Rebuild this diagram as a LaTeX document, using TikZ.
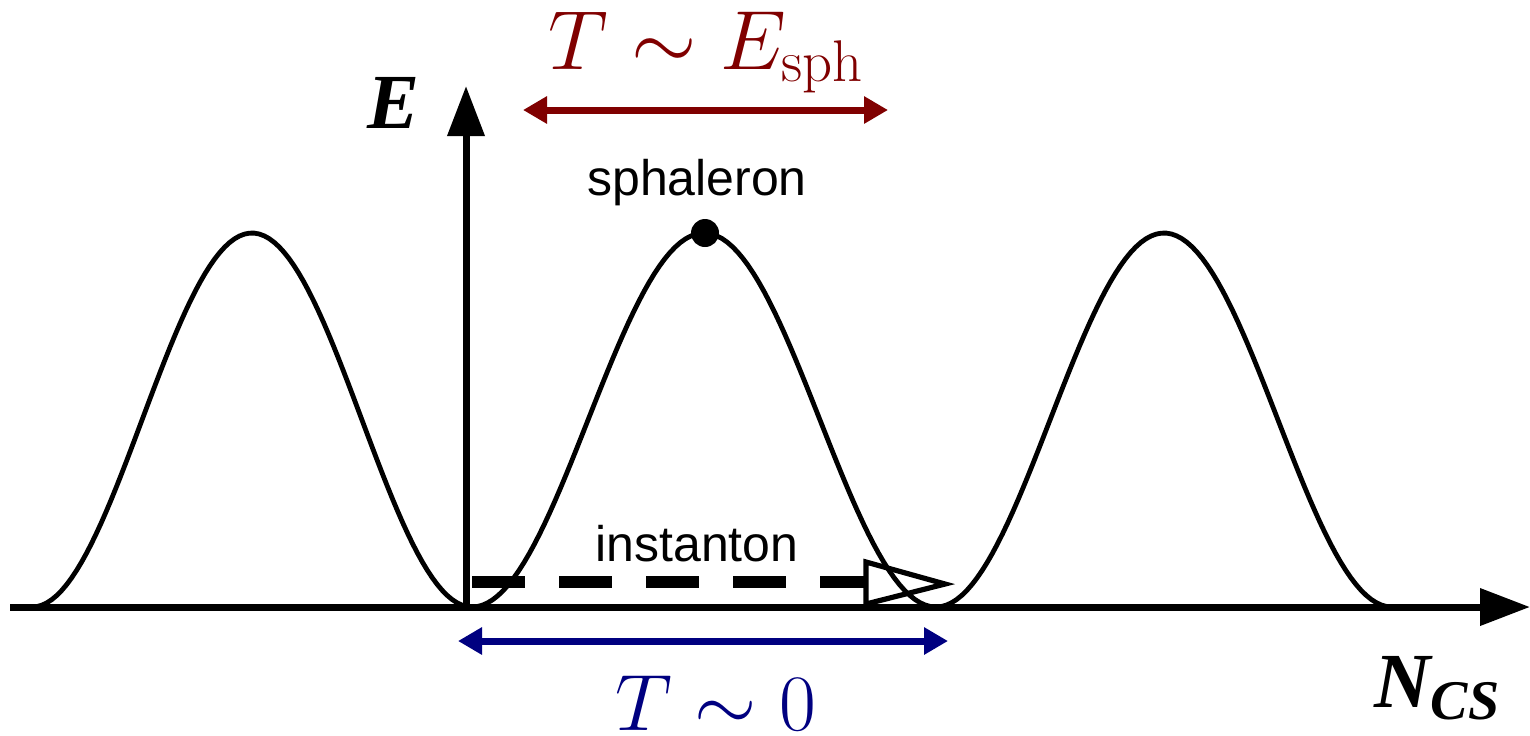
\RequirePackage{fix-cm}
\documentclass[tikz,border=0pt]{standalone}
\usepackage{fontspec}
\newfontfamily\labsans{Liberation Sans}
\newfontfamily\labserif{Liberation Serif}
\usetikzlibrary{arrows.meta}
\definecolor{sphred}{RGB}{128,0,0}
\definecolor{sphblue}{RGB}{0,0,128}
\tikzset{
  axisline/.style={line width=3.5pt, -{Triangle[length=25pt,width=18pt]}},
  hump/.style={line width=2.4pt, line join=round, line cap=round},
  temparrow/.style={line width=3.5pt, {Triangle[length=12pt,width=13pt]}-{Triangle[length=12pt,width=13pt]}},
  sanslabel/.style={font=\labsans\fontsize{25}{30}\selectfont, inner sep=0pt, anchor=base},
  axislabel/.style={font=\labserif\bfseries\itshape\fontsize{39}{46}\selectfont, inner sep=0pt, anchor=base},
  templabel/.style={font=\fontsize{40}{48}\selectfont, inner sep=0pt, anchor=base},
}
\begin{document}
\begin{tikzpicture}[x=0.5pt,y=-0.5pt]
\useasboundingbox (0,0) rectangle (1530,735);
% axes
\coordinate (O) at (466,607);
\coordinate (xs) at (10,607);
\coordinate (xe) at (1530,607);
\coordinate (ye) at (466,86);
\draw[axisline] (xs) -- (xe);
\draw[axisline] (O) -- (ye);
% humps
\draw[hump] plot[domain=0:1, samples=90, variable=\t] ({32+440*\t},{607-374*pow(sin(180*\t),2)});
\draw[hump] plot[domain=0:1, samples=90, variable=\t] ({472+464*\t},{607-374*pow(sin(180*\t),2)});
\draw[hump] plot[domain=0:1, samples=90, variable=\t] ({936+456*\t},{607-374*pow(sin(180*\t),2)});
% sphaleron
\node[circle, fill, inner sep=0pt, minimum size=14pt] (sph) at (705,233) {};
\node[sanslabel] (sphlab) at (697,195) {sphaleron};
% instanton
\node[sanslabel] (instlab) at (697,561) {instanton};
\coordinate (is) at (472,582);
\coordinate (ie) at (866,582);
\draw[line width=6pt, dash pattern=on 26.5pt off 17pt] (is) -- (ie);
\coordinate (ta) at (866,562);
\coordinate (tb) at (945,584);
\coordinate (tc) at (866,604);
\draw[line width=2.6pt, line join=miter] (ta) -- (tb) -- (tc) -- cycle;
% axis labels
\node[axislabel] (Elab) at (394,128) {E};
\node[axislabel] (Nlab) at (1437,707) {N\raisebox{-6pt}{\fontsize{28}{30}\selectfont CS}};
% temperature arrows
\coordinate (r1) at (523,110);
\coordinate (r2) at (888,110);
\draw[temparrow, sphred] (r1) -- (r2);
\node[templabel, font=\fontsize{42}{50}\selectfont, text=sphred] (rlab) at (706,69) {$T\sim E_{\mathrm{sph}}$};
\coordinate (b1) at (458,641);
\coordinate (b2) at (948,641);
\draw[temparrow, sphblue] (b1) -- (b2);
\node[templabel, text=sphblue] (blab) at (716,730) {$T\sim 0$};
\end{tikzpicture}
\end{document}
